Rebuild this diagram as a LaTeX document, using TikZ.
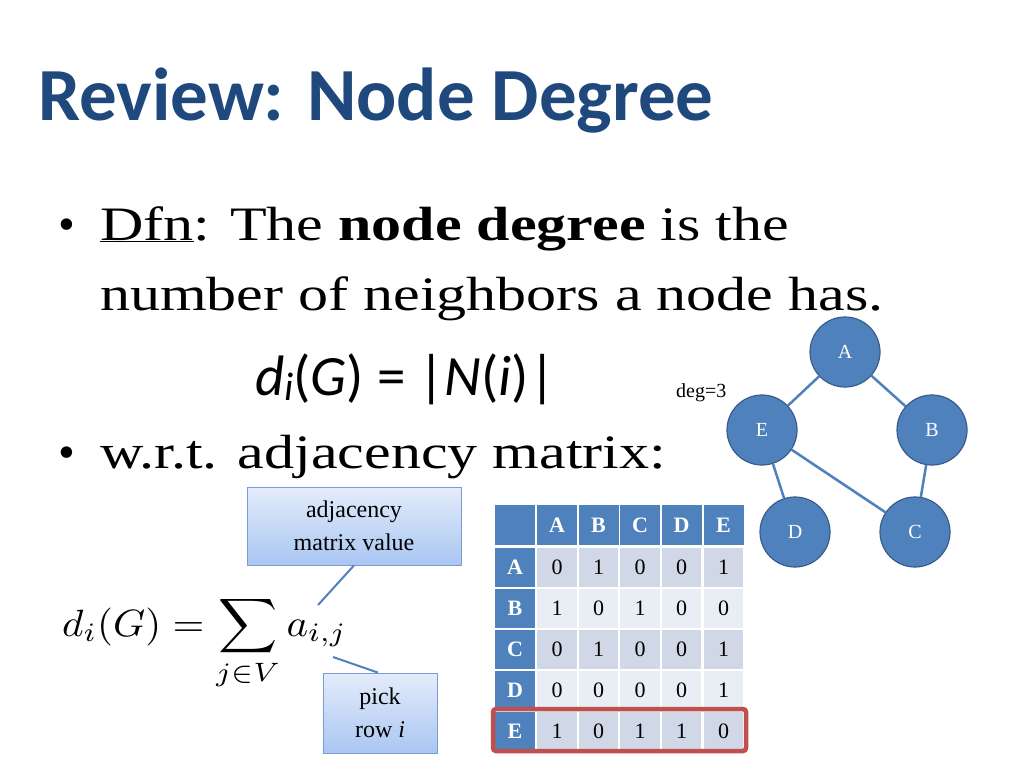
\documentclass[tikz,border=0pt]{standalone}
\usepackage{fontspec}
\setmainfont{Liberation Serif}
\newfontfamily\calib{Carlito}
\usetikzlibrary{shadings}
\definecolor{ttl}{HTML}{1F497D}
\definecolor{acc}{HTML}{4F81BD}
\definecolor{accd}{HTML}{385D8A}
\definecolor{cdark}{HTML}{D0D8E8}
\definecolor{clight}{HTML}{E9EDF4}
\definecolor{redb}{HTML}{C0504D}
\definecolor{cbtop}{HTML}{E4ECFA}
\definecolor{cbbot}{HTML}{A9C6F2}
\definecolor{cbbord}{HTML}{7A9CD0}
\tikzset{
 gnode/.style={circle,fill=acc,draw=accd,line width=1.2pt,minimum size=70pt,inner sep=0pt,text=white,font=\fontsize{20}{22}\selectfont},
 gedge/.style={draw=acc,line width=2.5pt},
 hcell/.style={fill=acc,text=white,font=\fontsize{22}{24}\selectfont\bfseries,inner sep=0pt,anchor=center},
 callout/.style={draw=cbbord,line width=0.8pt,top color=cbtop,bottom color=cbbot,align=center,font=\fontsize{24}{33}\selectfont,inner sep=0pt},
 bodytxt/.style={anchor=base west,inner sep=0pt,font=\fontsize{48}{50}\selectfont},
}
\newcommand{\wide}[1]{\scalebox{1.25}[1]{#1}}
\begin{document}
\begin{tikzpicture}[x=1pt,y=-1pt]
\useasboundingbox[fill=white] (0,0) rectangle (1024,768);
\node[anchor=base west,inner sep=0pt,text=ttl,font=\calib\fontsize{75}{78}\selectfont\bfseries] (title) at (38,120) {Review: Node Degree};
\node[bodytxt] (b1) at (58,240) {•};
\node[bodytxt] (l1) at (100,240) {\wide{\underline{Dfn}: The \textbf{node degree} is the}};
\node[bodytxt] (l2) at (100,310) {\wide{number of neighbors a node has.}};
\node[anchor=base west,inner sep=0pt,font=\calib\fontsize{57}{60}\selectfont] (f1) at (255,395) {\textit{d}\raisebox{-0.1em}{\fontsize{40}{40}\selectfont\textit{i}}(\textit{G}) = |\textit{N}(\textit{i})|};
\node[bodytxt] (b2) at (58,468) {•};
\node[bodytxt] (l3) at (100,468) {\wide{w.r.t. adjacency matrix:}};
\node[anchor=base west,inner sep=0pt,font=\fontsize{20}{22}\selectfont] (deg) at (676,397) {deg=3};
% graph
\node[gnode] (A) at (845,352) {A};
\node[gnode] (E) at (762,430) {E};
\node[gnode] (B) at (932,430) {B};
\node[gnode] (D) at (795,532) {D};
\node[gnode] (C) at (915,532) {C};
\draw[gedge] (A)--(E); \draw[gedge] (A)--(B); \draw[gedge] (E)--(D);
\draw[gedge] (E)--(C); \draw[gedge] (B)--(C);
% table
\def\colx{{515,557,598.5,640,681.5,723.5}}
\foreach \t [count=\k from 1] in {A,B,C,D,E}{
  \pgfmathsetmacro\cx{\colx[\k]}
  \node[hcell,minimum width=40pt,minimum height=40pt] (h\k) at (\cx,525) {\t};
}
\node[hcell,minimum width=40pt,minimum height=40pt] (h0) at (515,525) {};
\foreach \t/\r [count=\k from 1] in {A/{0,1,0,0,1},B/{1,0,1,0,0},C/{0,1,0,0,1},D/{0,0,0,0,1},E/{1,0,1,1,0}}{
  \pgfmathsetmacro\cy{526+41*\k}
  \node[hcell,minimum width=40pt,minimum height=39pt] (r\k) at (515,\cy) {\t};
  \pgfmathparse{mod(\k,2)==1?"cdark":"clight"}\edef\cc{\pgfmathresult}
  \foreach \v [count=\j from 1] in \r {
    \pgfmathsetmacro\cx{\colx[\j]}
    \node[fill=\cc,minimum width=39.5pt,minimum height=39pt,inner sep=0pt,font=\fontsize{22}{24}\selectfont] (c\k\j) at (\cx,\cy) {\v};
  }
}
\draw[redb,line width=4.5pt,rounded corners=3pt] (493,709) rectangle (746,751);
% formula
\node[anchor=base west,inner sep=0pt] (f2) at (62,636) {\scalebox{4.1}[3.8]{$\displaystyle d_{i}(G)=\sum_{j\in V} a_{i,j}$}};
% callouts
\node[callout,minimum width=214pt,minimum height=78pt] (cb1) at (354,526) {adjacency\\matrix value};
\node[callout,minimum width=114pt,minimum height=80pt] (cb2) at (380,713) {pick\\row \textit{i}};
\coordinate (p1) at (318,605);
\coordinate (p2) at (333,657);
\draw[gedge,line width=2pt] (cb1.south) -- (p1);
\draw[gedge,line width=2pt] (p2) -- ([xshift=-2pt]cb2.north);
\end{tikzpicture}
\end{document}
